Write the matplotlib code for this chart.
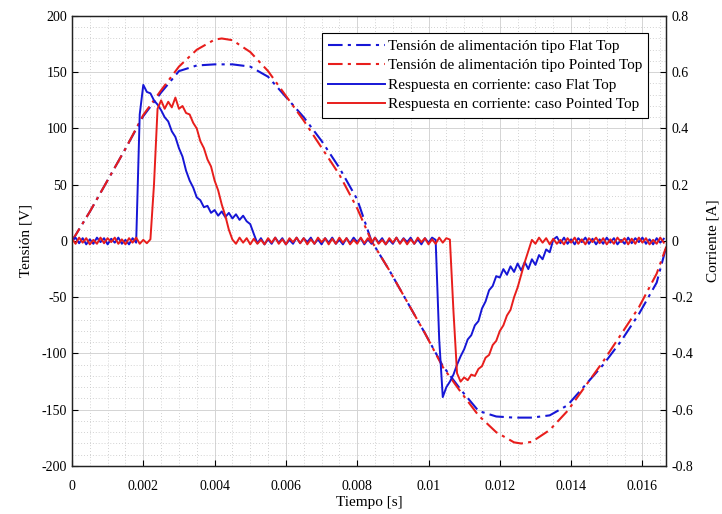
import numpy as np
import matplotlib
matplotlib.use("Agg")
import matplotlib.pyplot as plt
from matplotlib.ticker import MultipleLocator, FuncFormatter
from matplotlib.lines import Line2D

plt.rcParams['font.family'] = ['Liberation Serif', 'DejaVu Serif']
plt.rcParams['font.size'] = 10

# supply voltage
t_v = [0, 0.0005, 0.001, 0.0015, 0.002, 0.0025, 0.003, 0.0035, 0.004, 0.0042,
       0.0045, 0.005, 0.0055, 0.006, 0.0065, 0.007, 0.0075, 0.008, 0.0084,
       0.0089, 0.0094, 0.0099, 0.0104, 0.0109, 0.0114, 0.0119, 0.0124, 0.0126,
       0.0129, 0.0134, 0.0139, 0.0144, 0.0149, 0.0154, 0.0159, 0.0164, 0.01667]
v_flat = [0, 26, 54, 82, 111, 132, 151, 156, 157, 157,
          157, 155, 146, 128, 110, 89, 65, 37, 0,
          -26, -54, -82, -111, -132, -151, -156, -157, -157,
          -157, -155, -146, -128, -110, -89, -65, -37, -5]
v_point = [0, 26, 54, 82, 112, 134, 155, 170, 179, 180,
           178.5, 168, 151, 129, 107, 83, 59, 29, 0,
           -26, -54, -82, -112, -134, -155, -170, -179, -180,
           -178.5, -168, -151, -129, -107, -83, -59, -29, -5]

# current response, sampled every 0.1 ms from 0 to 16.6 ms
t_i = np.linspace(0, 0.0166, 167)
i_flat = [0.000, 0.012, -0.008, 0.010, -0.012, 0.006, -0.010, 0.012, -0.004, 0.010,
          -0.012, 0.008, -0.006, 0.012, -0.010, 0.004, -0.012, 0.010, -0.006,
          0.45, 0.555, 0.53, 0.525, 0.50, 0.485, 0.465, 0.44, 0.425, 0.39,
          0.37, 0.33, 0.30, 0.25, 0.215, 0.19, 0.155, 0.145, 0.12, 0.125,
          0.10, 0.11, 0.09, 0.105, 0.085, 0.10, 0.08, 0.095, 0.075, 0.09,
          0.07, 0.06, 0.025, -0.008,
          0.010, -0.012, 0.006, -0.010, 0.012, -0.006, 0.010, -0.012, 0.004, -0.010,
          0.012, -0.008, 0.010, -0.004, 0.012, -0.010, 0.006, -0.012, 0.010, -0.006,
          0.012, -0.010, 0.004, -0.012, 0.010, -0.008, 0.012, -0.004, 0.010, -0.012,
          0.006, -0.010, 0.012, -0.006, 0.010, -0.012, 0.004, -0.010, 0.012, -0.008,
          0.010, -0.004, 0.012, -0.010, 0.006, -0.012, 0.010, -0.006, 0.012, 0.004,
          -0.35, -0.555, -0.52, -0.50, -0.475, -0.44, -0.41, -0.385, -0.35, -0.335,
          -0.30, -0.285, -0.24, -0.215, -0.175, -0.16, -0.125, -0.13, -0.10, -0.12,
          -0.09, -0.11, -0.08, -0.105, -0.075, -0.10, -0.065, -0.085, -0.05, -0.065,
          -0.03, -0.04, 0.005, 0.015,
          -0.008, 0.012, -0.010, 0.006, -0.012, 0.010, -0.004, 0.012, -0.010, 0.008,
          -0.012, 0.006, -0.010, 0.012, -0.006, 0.010, -0.012, 0.004, -0.010, 0.012,
          -0.008, 0.010, -0.004, 0.012, -0.010, 0.006, -0.012, 0.010, -0.006, 0.008]
i_point = [0.008, -0.010, 0.012, -0.006, 0.010, -0.012, 0.004, -0.010, 0.012, -0.008,
           0.010, -0.004, 0.012, -0.010, 0.006, -0.012, 0.010, -0.006, 0.012, -0.010,
           0.004, -0.008, 0.006,
           0.20, 0.47, 0.50, 0.47, 0.495, 0.475, 0.51, 0.47, 0.48, 0.455,
           0.45, 0.42, 0.40, 0.355, 0.33, 0.29, 0.265, 0.215, 0.18, 0.13,
           0.09, 0.04, 0.005,
           -0.010, 0.012, -0.006, 0.010, -0.012, 0.008, -0.010, 0.004, -0.012, 0.010,
           -0.006, 0.012, -0.010, 0.006, -0.012, 0.010, -0.004, 0.012, -0.008, 0.010,
           -0.012, 0.006, -0.010, 0.012, -0.004, 0.010, -0.012, 0.008, -0.010, 0.012,
           -0.006, 0.010, -0.012, 0.004, -0.010, 0.012, -0.008, 0.010, -0.006, 0.012,
           -0.010, 0.004, -0.012, 0.010, -0.006, 0.012, -0.010, 0.008, -0.012, 0.006,
           -0.010, 0.012, -0.004, 0.010, -0.012, 0.006, -0.010, 0.012, -0.006, 0.010,
           0.005, -0.25, -0.47, -0.50, -0.485, -0.495, -0.475, -0.48, -0.455, -0.445,
           -0.415, -0.405, -0.37, -0.355, -0.32, -0.30, -0.265, -0.245, -0.20, -0.165,
           -0.12, -0.075, -0.035,
           0.004, -0.010, 0.012, -0.006, 0.010, -0.012, 0.008, -0.010, 0.004, -0.012,
           0.010, -0.006, 0.012, -0.010, 0.006, -0.012, 0.010, -0.004, 0.012, -0.008,
           0.010, -0.012, 0.006, -0.010, 0.012, -0.004, 0.010, -0.012, 0.008, -0.010,
           0.012, -0.006, 0.010, -0.012, 0.004, -0.010, 0.012, -0.006]

labels = ['Tensión de alimentación tipo Flat Top',
          'Tensión de alimentación tipo Pointed Top',
          'Respuesta en corriente: caso Flat Top',
          'Respuesta en corriente: caso Pointed Top']

blue = '#1616d6'
red = '#e81e1c'
dashdot = (0, (7, 2.5, 1.5, 2.5))

fig = plt.figure(figsize=(7.22, 5.14), dpi=100)
ax = fig.add_axes([0.0997, 0.0934, 0.8230, 0.8755])
ax2 = ax.twinx()

ax.plot(t_v, v_flat, color=blue, lw=1.5, ls=dashdot)
ax.plot(t_v, v_point, color=red, lw=1.5, ls=dashdot)
ax2.plot(t_i, i_flat, color=blue, lw=1.4)
ax2.plot(t_i, i_point, color=red, lw=1.4)

ax.set_xlim(0, 1 / 60)
ax.set_ylim(-200, 200)
ax2.set_ylim(-0.8, 0.8)

ax.xaxis.set_major_locator(MultipleLocator(0.002))
ax.xaxis.set_minor_locator(MultipleLocator(0.0005))
ax.yaxis.set_major_locator(MultipleLocator(50))
ax.yaxis.set_minor_locator(MultipleLocator(10))
ax2.yaxis.set_major_locator(MultipleLocator(0.2))
fmt = FuncFormatter(lambda v, p: '%g' % round(v, 6))
ax.xaxis.set_major_formatter(fmt)
ax.yaxis.set_major_formatter(fmt)
ax2.yaxis.set_major_formatter(fmt)

ax.grid(which='major', color='#d4d4d4', lw=0.7, ls='-')
ax.grid(which='minor', color='#c4c4c4', lw=0.6, ls=(0, (1, 2.5)))
ax.set_axisbelow(True)

for a in (ax, ax2):
    a.tick_params(which='major', direction='in', length=4, width=0.8, colors='black')
    a.tick_params(which='minor', length=0)
    for s in a.spines.values():
        s.set_linewidth(0.9)
        s.set_color('#222222')
ax.tick_params(axis='x', pad=10)

ax.set_xlabel('Tiempo [s]', fontsize=11, labelpad=2)
ax.set_ylabel('Tensión [V]', fontsize=11, labelpad=7)
ax2.set_ylabel('Corriente [A]', fontsize=11, labelpad=10)

handles = [Line2D([], [], color=blue, lw=1.5, ls=dashdot),
           Line2D([], [], color=red, lw=1.5, ls=dashdot),
           Line2D([], [], color=blue, lw=1.4),
           Line2D([], [], color=red, lw=1.4)]
leg = ax2.legend(handles, labels, loc='upper right', bbox_to_anchor=(0.970, 0.962),
                 fontsize=11, handlelength=3.7, handletextpad=0.2,
                 labelspacing=0.38, borderpad=0.4, borderaxespad=0.0,
                 fancybox=False, edgecolor='black', framealpha=1.0)
leg.get_frame().set_linewidth(0.8)

fig.savefig('out.png', dpi=100)
